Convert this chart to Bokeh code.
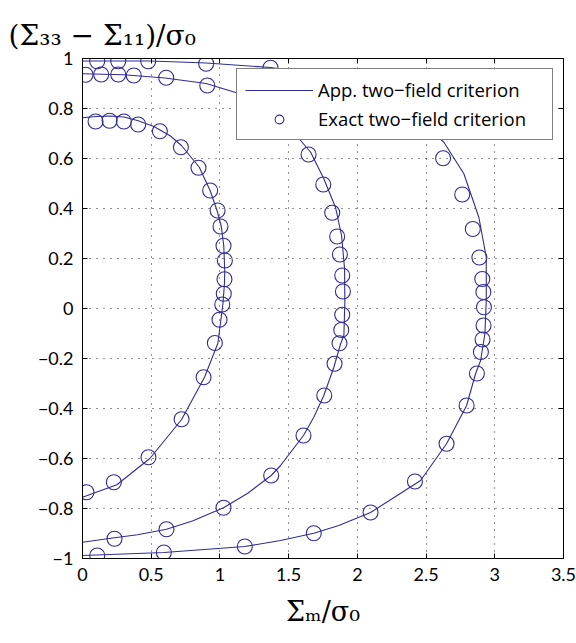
from bokeh.plotting import figure
from bokeh.models import Legend, LegendItem, LinearAxis, FixedTicker, Range1d, Title
from bokeh.embed import file_html
from bokeh.resources import INLINE

# ---- data ----
# curve 1 (inner)
c1_line_x = [0, 0.1, 0.2, 0.3, 0.4, 0.52, 0.64, 0.72, 0.85, 0.93, 0.98, 1.01, 1.028, 1.035, 1.033,
             1.022, 1.007, 0.985, 0.888, 0.72, 0.49, 0.25, 0]
c1_line_y = [0.763, 0.768, 0.77, 0.766, 0.752, 0.728, 0.69, 0.652, 0.565, 0.47, 0.39, 0.328, 0.25, 0.15, 0.1,
             0.02, -0.045, -0.139, -0.275, -0.445, -0.6, -0.705, -0.755]
c1_pts_x = [0.095, 0.197, 0.301, 0.405, 0.563, 0.716, 0.844, 0.929, 0.983, 1.004, 1.026, 1.036, 1.033,
            1.028, 1.017, 0.997, 0.963, 0.881, 0.721, 0.480, 0.228, 0.029]
c1_pts_y = [0.748, 0.751, 0.748, 0.736, 0.709, 0.645, 0.563, 0.472, 0.392, 0.328, 0.251, 0.192, 0.117,
            0.059, 0.016, -0.045, -0.138, -0.275, -0.443, -0.595, -0.695, -0.735]

# curve 2 (middle)
c2_line_x = [0, 0.3, 0.6, 0.9, 1.126, 1.3, 1.514, 1.66, 1.756, 1.841, 1.885, 1.907, 1.909, 1.902, 1.878,
             1.829, 1.756, 1.683, 1.608, 1.441, 1.373, 1.2, 1.026, 0.8, 0.611, 0.4, 0.233, 0]
c2_line_y = [0.939, 0.935, 0.922, 0.90, 0.862, 0.80, 0.719, 0.625, 0.519, 0.405, 0.292, 0.159, 0.025, -0.108,
             -0.141, -0.235, -0.348, -0.435, -0.508, -0.628, -0.668, -0.74, -0.797, -0.85, -0.883, -0.905,
             -0.917, -0.935]
c2_pts_x = [0.022, 0.136, 0.26, 0.373, 0.609, 0.908, 1.46, 1.645, 1.752, 1.817, 1.853, 1.873, 1.890, 1.895,
            1.890, 1.883, 1.870, 1.834, 1.759, 1.608, 1.373, 1.026, 0.611, 0.233]
c2_pts_y = [0.935, 0.936, 0.936, 0.932, 0.923, 0.892, 0.732, 0.616, 0.496, 0.383, 0.288, 0.216, 0.132, 0.068,
            -0.025, -0.086, -0.139, -0.221, -0.348, -0.508, -0.668, -0.797, -0.883, -0.921]

# curve 3 (outer)
c3_line_x = [0, 0.5, 0.9, 1.37, 1.8, 2.1, 2.3, 2.52, 2.63, 2.775, 2.884, 2.938, 2.938, 2.928, 2.897, 2.86,
             2.795, 2.649, 2.46, 2.29, 2.096, 1.865, 1.683, 1.441, 1.181, 0.592, 0]
c3_line_y = [0.99, 0.99, 0.982, 0.964, 0.93, 0.87, 0.80, 0.719, 0.665, 0.539, 0.365, 0.205, 0.032, -0.101,
             -0.208, -0.261, -0.388, -0.541, -0.688, -0.748, -0.816, -0.868, -0.899, -0.928, -0.952, -0.976,
             -0.988]
c3_pts_x = [0.107, 0.26, 0.478, 0.90, 1.368, 2.42, 2.624, 2.763, 2.84, 2.888, 2.909, 2.917, 2.921, 2.918,
            2.911, 2.899, 2.870, 2.795, 2.649, 2.419, 2.096, 1.683, 1.181, 0.592, 0.107]
c3_pts_y = [0.989, 0.989, 0.989, 0.979, 0.963, 0.725, 0.601, 0.456, 0.318, 0.204, 0.118, 0.066, 0.005,
            -0.068, -0.124, -0.174, -0.260, -0.388, -0.541, -0.692, -0.816, -0.899, -0.952, -0.976, -0.988]

x_ticks = [0, 0.5, 1, 1.5, 2, 2.5, 3, 3.5]
x_tick_labels = ["0", "0.5", "1", "1.5", "2", "2.5", "3", "3.5"]
y_ticks = [-1, -0.8, -0.6, -0.4, -0.2, 0, 0.2, 0.4, 0.6, 0.8, 1]
y_tick_labels = ["\u22121", "\u22120.8", "\u22120.6", "\u22120.4", "\u22120.2", "0", "0.2", "0.4", "0.6", "0.8", "1"]

series_labels = ["App. two\u2212field criterion", "Exact two\u2212field criterion"]
y_title = "(\u03a3\u2083\u2083 \u2212 \u03a3\u2081\u2081)/\u03c3\u2080"
x_title = "\u03a3\u2098/\u03c3\u2080"

COLOR = "#2f2c96"
TICK_FONT = "Lato"
LEGEND_FONT = "Open Sans"
MATH_FONT = "DejaVu Serif"

p = figure(width=576, height=643, x_range=Range1d(0, 3.5), y_range=Range1d(-1, 1),
           output_backend="svg", toolbar_location=None,
           min_border_left=82, min_border_right=13, min_border_top=58, min_border_bottom=85)
p.title = Title(text=y_title, align="left", offset=-74, text_font=MATH_FONT,
                text_font_size="28px", text_font_style="normal", text_color="black",
                standoff=10, vertical_align="top")

p.background_fill_color = "white"
p.border_fill_color = "white"
p.outline_line_color = "black"
p.outline_line_width = 1

xt = FixedTicker(ticks=x_ticks)
yt = FixedTicker(ticks=y_ticks)

for ax, tk, labs in ((p.xaxis[0], xt, x_tick_labels), (p.yaxis[0], yt, y_tick_labels)):
    ax.ticker = tk
    ax.major_label_overrides = {t: l for t, l in zip(tk.ticks, labs)}
    ax.major_label_text_font = TICK_FONT
    ax.major_label_text_font_size = "18px"
    ax.major_label_text_color = "black"
    ax.major_tick_in = 5
    ax.major_tick_out = 0
    ax.minor_tick_in = 0
    ax.minor_tick_out = 0
    ax.axis_line_color = "black"
    ax.major_tick_line_color = "black"
    ax.major_label_standoff = 9

p.xaxis.axis_label = x_title
p.xaxis.axis_label_text_font = MATH_FONT
p.xaxis.axis_label_text_font_size = "27px"
p.xaxis.axis_label_text_font_style = "normal"
p.xaxis.axis_label_text_color = "black"
p.xaxis.axis_label_standoff = 12

# tick marks on the opposite sides (no labels drawn)
for loc, tk in (("right", yt), ("above", xt)):
    ax = LinearAxis(ticker=tk, major_label_text_color=None, major_label_text_font_size="0px",
                    major_label_standoff=0,
                    major_tick_in=5, major_tick_out=0, minor_tick_in=0, minor_tick_out=0,
                    axis_line_color="black", major_tick_line_color="black")
    p.add_layout(ax, loc)

for g in (p.xgrid[0], p.ygrid[0]):
    g.grid_line_color = "#222222"
    g.grid_line_dash = "1 6"
    g.grid_line_width = 1
p.xgrid.ticker = xt
p.ygrid.ticker = yt

line_renderers = []
pt_renderers = []
for lx, ly, px, py in ((c1_line_x, c1_line_y, c1_pts_x, c1_pts_y),
                       (c2_line_x, c2_line_y, c2_pts_x, c2_pts_y),
                       (c3_line_x, c3_line_y, c3_pts_x, c3_pts_y)):
    line_renderers.append(p.line(lx, ly, line_color=COLOR, line_width=1.1))
    pt_renderers.append(p.scatter(px, py, marker="circle", size=15, fill_color=None,
                                  line_color=COLOR, line_width=1.1))

legend = Legend(items=[LegendItem(label=series_labels[0], renderers=[line_renderers[0]]),
                       LegendItem(label=series_labels[1], renderers=[pt_renderers[0]])],
                location="top_right", margin=10, padding=8, spacing=4,
                glyph_width=68, glyph_height=22, label_height=22, label_standoff=5, label_width=226,
                label_text_font=LEGEND_FONT, label_text_font_size="18.5px", label_text_color="black",
                border_line_color="black", border_line_width=1,
                background_fill_color="white", background_fill_alpha=1.0)
p.add_layout(legend)

open("out.html", "w").write(file_html(p, INLINE))
